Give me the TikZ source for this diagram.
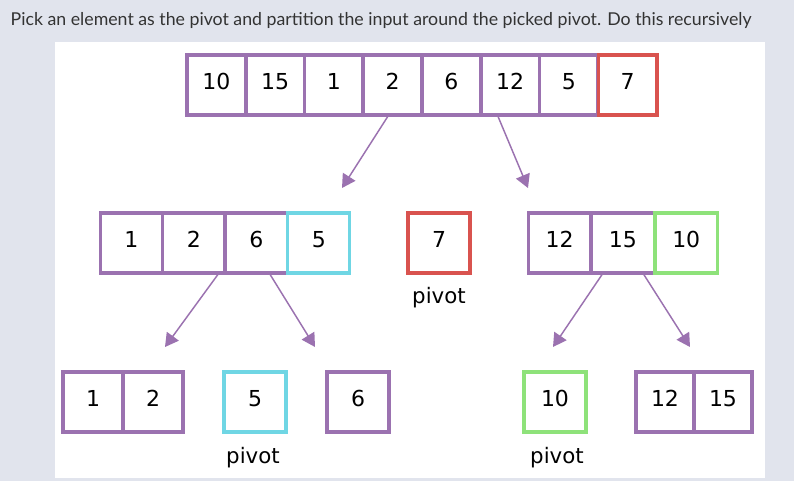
\documentclass[tikz,border=0pt]{standalone}
\usepackage{fontspec}
\setmainfont{DejaVu Sans}
\newfontfamily\titlefont{Lato}
\usetikzlibrary{arrows.meta}
\definecolor{bg}{HTML}{E1E4ED}
\definecolor{pur}{HTML}{9B72B0}
\definecolor{pvr}{HTML}{D9534F}
\definecolor{pvc}{HTML}{6FD6E4}
\definecolor{pvg}{HTML}{8EE27A}
\tikzset{
 cell/.style={draw=pur,line width=2.6pt,fill=white,minimum height=45pt,inner sep=0pt,text height=0.73em,text depth=0pt,font=\fontsize{16.5}{18}\selectfont},
 arr/.style={draw=pur,line width=1.1pt,-{Triangle[length=10pt,width=11pt]}},
 lbl/.style={font=\fontsize{16}{18}\selectfont}
}
\begin{document}
\begin{tikzpicture}[x=0.75pt,y=-0.75pt]
\fill[bg] (0,0) rectangle (794,481);
\fill[white] (55,42) rectangle (765,478);
\node[anchor=west,font=\titlefont\fontsize{13.3}{15}\selectfont,text=black!80] (title) at (6,20) {Pick an element as the pivot and partition the input around the picked pivot. Do this recursively};
% top row
\foreach \v [count=\i] in {10,15,1,2,6,12,5} {
  \node[cell,minimum width=44pt] (t\i) at ({187+58.75*(\i-0.5)},85) {\v};
}
\node[cell,draw=pvr,minimum width=44pt] (t8) at ({187+58.75*7.5},85) {7};
% row 2
\foreach \v [count=\i] in {1,2,6} {
  \node[cell,minimum width=46.5pt] (l\i) at ({100+62.5*(\i-0.5)},243) {\v};
}
\node[cell,draw=pvc,minimum width=46.5pt] (l4) at ({100+62.5*3.5},243) {5};
\node[cell,draw=pvr,minimum width=46.5pt] (p7) at (439,243) {7};
\node[lbl] (pv1) at (439,298) {pivot};
\foreach \v [count=\i] in {12,15} {
  \node[cell,minimum width=47pt] (r\i) at ({528+63.3*(\i-0.5)},243) {\v};
}
\node[cell,draw=pvg,minimum width=47pt] (r3) at ({528+63.3*2.5},243) {10};
% row 3
\node[cell,minimum width=45pt] (a1) at (93,402) {1};
\node[cell,minimum width=45pt] (a2) at (153,402) {2};
\node[cell,draw=pvc,minimum width=46.5pt] (b5) at (255,402) {5};
\node[lbl] (pv2) at (253,458) {pivot};
\node[cell,minimum width=46.5pt] (c6) at (358,402) {6};
\node[cell,draw=pvg,minimum width=46.5pt] (d10) at (555,402) {10};
\node[lbl] (pv3) at (557,458) {pivot};
\node[cell,minimum width=43.5pt] (e12) at (665,402) {12};
\node[cell,minimum width=43.5pt] (e15) at (723,402) {15};
% arrows
\coordinate (k1) at (342,188);
\coordinate (k2) at (528,188);
\coordinate (k3) at (165,347);
\coordinate (k4) at (315,347);
\coordinate (k5) at (553,347);
\coordinate (k6) at (690,347);
\draw[arr] (t4.south) ++(-5,0) -- (k1);
\draw[arr] (t6.south) ++(-12,0) -- (k2);
\draw[arr] (l2.south) ++(24,0) -- (k3);
\draw[arr] (l3.south) ++(14,0) -- (k4);
\draw[arr] (r2.south) ++(-21,0) -- (k5);
\draw[arr] (r2.south) ++(21,0) -- (k6);
\end{tikzpicture}
\end{document}
